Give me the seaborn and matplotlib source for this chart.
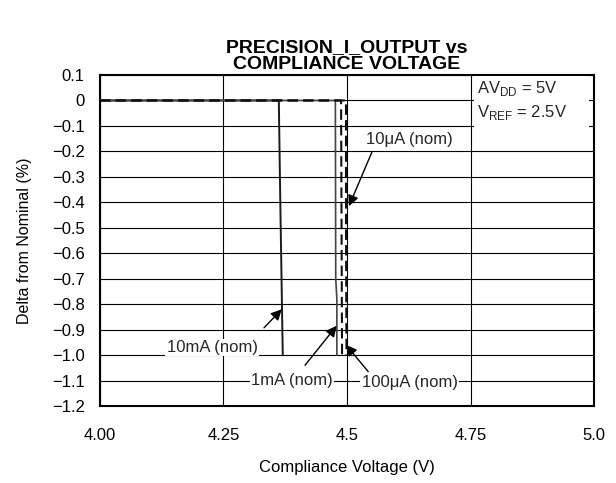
import matplotlib
matplotlib.use("Agg")
import matplotlib.pyplot as plt
from matplotlib.patches import Rectangle
import seaborn as sns
import pandas as pd

sns.set_theme(style="white")
plt.rcParams['font.family'] = ['Liberation Sans', 'DejaVu Sans']

# Data
v_10mA = [4.00, 4.362, 4.365, 4.370]
d_10mA = [0.0, 0.0, -0.40, -1.00]
v_1mA = [4.00, 4.4765, 4.4772, 4.4795, 4.4795]
d_1mA = [0.0, 0.0, -0.70, -0.78, -1.00]
v_100uA = [4.00, 4.488, 4.489, 4.490]
d_100uA = [0.0, 0.0, -0.50, -1.00]
v_10uA = [4.00, 4.498, 4.498, 4.499]
d_10uA = [0.0, 0.0, -0.50, -1.00]

series = [
    ("10mA", v_10mA, d_10mA, "#1a1a1a", "-", 1.4),
    ("1mA", v_1mA, d_1mA, "#444444", "-", 1.2),
    ("100uA", v_100uA, d_100uA, "#111111", (0, (5, 2.5)), 1.5),
    ("10uA", v_10uA, d_10uA, "#111111", (0, (5, 2.5)), 1.5),
]

# Annotations: label, text position, arrow tail, arrow head
labels = ["10\u03bcA (nom)", "10mA (nom)", "1mA (nom)", "100\u03bcA (nom)"]
text_pos = [(4.627, -0.155), (4.227, -0.97), (4.389, -1.10), (4.627, -1.108)]
tails = [(4.551, -0.20), (4.332, -0.893), (4.415, -1.04), (4.543, -1.065)]
heads = [(4.504, -0.415), (4.368, -0.82), (4.479, -0.885), (4.498, -0.96)]

FS = 12

fig = plt.figure(figsize=(6.16, 4.83), dpi=100)
ax = fig.add_axes([0.1623, 0.1594, 0.8020, 0.6853])

for name, xs, ys, col, ls, lw in series:
    df = pd.DataFrame({"V": xs, "D": ys})
    sns.lineplot(data=df, x="V", y="D", ax=ax, color=col, linestyle=ls,
                 linewidth=lw, sort=False, estimator=None, zorder=3)

ax.set_xlim(4.0, 5.0)
ax.set_ylim(-1.2, 0.1)
xticks = [4.00, 4.25, 4.5, 4.75, 5.0]
xlabels = ["4.00", "4.25", "4.5", "4.75", "5.0"]
ax.set_xticks(xticks)
ax.set_xticklabels(xlabels)
yticks = [0.1, 0, -0.1, -0.2, -0.3, -0.4, -0.5, -0.6, -0.7, -0.8, -0.9, -1.0, -1.1, -1.2]
ylabels = ["0.1", "0", "\u22120.1", "\u22120.2", "\u22120.3", "\u22120.4", "\u22120.5",
           "\u22120.6", "\u22120.7", "\u22120.8", "\u22120.9", "\u22121.0", "\u22121.1", "\u22121.2"]
ax.set_yticks(yticks)
ax.set_yticklabels(ylabels)
ax.tick_params(axis='both', labelsize=FS, colors='black', length=0)
ax.tick_params(axis='x', pad=16)
ax.tick_params(axis='y', pad=11)
ax.grid(True, color='black', linewidth=0.8, zorder=1)
ax.set_axisbelow(True)
for s in ax.spines.values():
    s.set_color('black')
    s.set_linewidth(1.5)
    s.set_visible(True)

ax.set_xlabel("Compliance Voltage (V)", fontsize=FS, color='black', labelpad=12)
ax.set_ylabel("Delta from Nominal (%)", fontsize=11.5, color='black', labelpad=14)
ax.set_title("PRECISION_I_OUTPUT vs\nCOMPLIANCE VOLTAGE", fontsize=14, fontweight='bold',
             color='black', pad=4, linespacing=1.05)

# Condition box
ax.add_patch(Rectangle((4.758, -0.115), 0.232, 0.21, facecolor='white',
                       edgecolor='none', zorder=4))
ax.text(4.764, 0.085, "AV$_{\\mathregular{DD}}$ = 5V\nV$_{\\mathregular{REF}}$ = 2.5V",
        fontsize=FS, ha='left', va='top', zorder=5, linespacing=1.35)

for lab, tp, tl, hd in zip(labels, text_pos, tails, heads):
    ax.text(tp[0], tp[1], lab, fontsize=FS, ha='center', va='center', zorder=6,
            bbox=dict(facecolor='white', edgecolor='none', pad=1))
    ax.annotate("", xy=hd, xytext=tl, zorder=6,
                arrowprops=dict(arrowstyle='-|>', color='black', lw=1.0,
                                mutation_scale=16, shrinkA=0, shrinkB=0))

fig.savefig("out.png", dpi=100, facecolor='white')
